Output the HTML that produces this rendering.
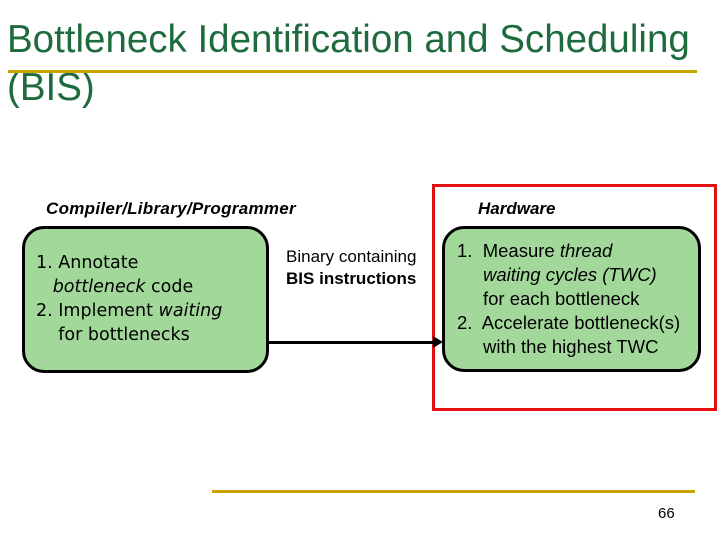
<!DOCTYPE html>
<html><head><style>
body{margin:0;width:720px;height:540px;background:#fff;position:relative;overflow:hidden;font-family:"Liberation Sans",sans-serif}
.a{position:absolute;white-space:nowrap}
.box{position:absolute;background:#a3d89b;border:3px solid #000;border-radius:22px;box-sizing:border-box}
</style></head><body>
<div class="a" style="left:7px;top:16px;font-size:38.5px;line-height:48px;color:#1e6b3e">Bottleneck Identification and Scheduling<br>(BIS)</div>
<div class="a" style="left:8px;top:70px;width:689px;height:3px;background:#c9a400"></div>
<div class="a" style="left:212px;top:490px;width:483px;height:3px;background:#c9a400"></div>
<div class="a" style="left:658px;top:505px;font-size:15px">66</div>
<div class="a" style="left:46px;top:199px;font-size:17px;font-weight:bold;font-style:italic;letter-spacing:0.3px">Compiler/Library/Programmer</div>
<div class="a" style="left:478px;top:199px;font-size:17px;font-weight:bold;font-style:italic">Hardware</div>
<div class="a" style="left:432px;top:184px;width:285px;height:227px;border:3px solid #e01010;box-sizing:border-box"></div>
<div class="box" style="left:22px;top:226px;width:247px;height:147px"></div>
<div class="a" style="left:36px;top:251px;line-height:24px;font-family:'DejaVu Sans',sans-serif;font-size:17.5px">1. Annotate<br>&nbsp;&nbsp;&nbsp;<i>bottleneck</i> code<br>2. Implement <i>waiting</i><br>&nbsp;&nbsp;&nbsp;&nbsp;for bottlenecks</div>
<div class="box" style="left:442px;top:226px;width:259px;height:146px"></div>
<div class="a" style="left:457px;top:239px;font-size:18.5px;line-height:24px">1.&nbsp; Measure <i>thread</i><br><span style="padding-left:26px"><i>waiting cycles (TWC)</i></span><br><span style="padding-left:26px">for each bottleneck</span><br>2.&nbsp; Accelerate bottleneck(s)<br><span style="padding-left:26px">with the highest TWC</span></div>
<div class="a" style="left:268px;top:341px;width:166px;height:3px;background:#000"></div>
<div class="a" style="left:433px;top:336px;width:0;height:0;border-left:10px solid #000;border-top:6px solid transparent;border-bottom:6px solid transparent"></div>
<div class="a" style="left:286px;top:246px;font-size:17px;line-height:22px;text-align:center">Binary containing<br><b>BIS instructions</b></div>
</body></html>
